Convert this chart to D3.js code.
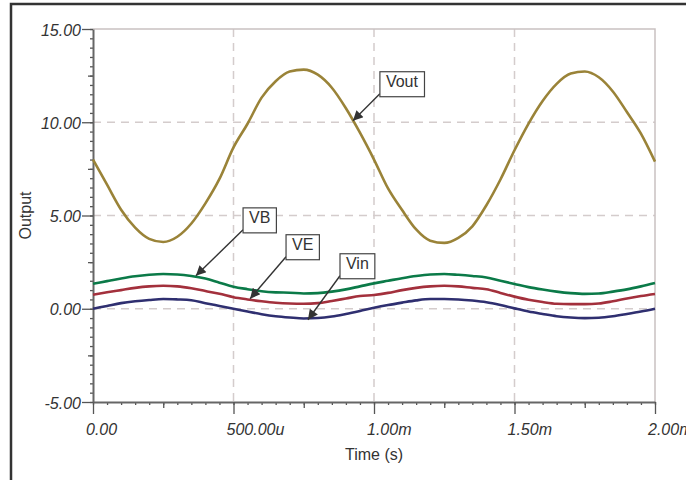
<!DOCTYPE html>
<html>
<head>
<meta charset="utf-8">
<script src="https://cdn.jsdelivr.net/npm/d3@7"></script>
<style>
  body { margin: 0; background: #fff; }
  svg { display: block; font-family: "Liberation Sans", Arial, Helvetica, sans-serif; }
</style>
</head>
<body>
<div id="chart"></div>
<script>
// time samples in ms
const timeMs = [0.00, 0.05, 0.10, 0.15, 0.20, 0.25, 0.30, 0.35, 0.40, 0.45,
  0.50, 0.55, 0.60, 0.65, 0.70, 0.75, 0.80, 0.85, 0.90, 0.95,
  1.00, 1.05, 1.10, 1.15, 1.20, 1.25, 1.30, 1.35, 1.40, 1.45,
  1.50, 1.55, 1.60, 1.65, 1.70, 1.75, 1.80, 1.85, 1.90, 1.95, 2.00];

const vout = [8.00, 6.65, 5.31, 4.35, 3.75, 3.58, 3.86, 4.57, 5.65, 6.96,
  8.65, 9.92, 11.32, 12.20, 12.72, 12.82, 12.55, 11.85, 10.75, 9.44,
  8.00, 6.45, 5.29, 4.25, 3.65, 3.53, 3.80, 4.42, 5.55, 6.93,
  8.50, 9.93, 11.14, 12.06, 12.61, 12.72, 12.41, 11.65, 10.55, 9.39, 7.89];

const vb = [1.34, 1.48, 1.62, 1.74, 1.82, 1.86, 1.84, 1.76, 1.62, 1.40,
  1.18, 1.05, 0.94, 0.88, 0.86, 0.82, 0.84, 0.92, 1.04, 1.20,
  1.36, 1.50, 1.64, 1.76, 1.84, 1.86, 1.82, 1.76, 1.68, 1.50,
  1.33, 1.16, 1.03, 0.92, 0.84, 0.80, 0.82, 0.92, 1.04, 1.20, 1.38];

const ve = [0.75, 0.88, 1.00, 1.12, 1.20, 1.23, 1.20, 1.10, 0.95, 0.80,
  0.62, 0.50, 0.40, 0.32, 0.28, 0.27, 0.30, 0.42, 0.55, 0.68,
  0.74, 0.85, 1.00, 1.12, 1.20, 1.23, 1.20, 1.12, 1.05, 0.85,
  0.65, 0.48, 0.36, 0.27, 0.25, 0.25, 0.28, 0.40, 0.55, 0.68, 0.79];

const vin = [0.00, 0.15, 0.30, 0.40, 0.47, 0.52, 0.50, 0.46, 0.30, 0.15,
  0.00, -0.15, -0.29, -0.40, -0.47, -0.52, -0.50, -0.42, -0.28, -0.12,
  0.05, 0.20, 0.33, 0.45, 0.52, 0.52, 0.50, 0.44, 0.35, 0.20,
  0.02, -0.15, -0.28, -0.40, -0.47, -0.50, -0.48, -0.40, -0.28, -0.15, 0.00];

const seriesNames = ['Vout', 'VB', 'VE', 'Vin'];
const seriesColors = ['#9a8338', '#0b7a48', '#a3303c', '#2f2f70'];

const xTicks = [0, 0.5, 1, 1.5, 2];
const xTickLabels = ['0.00', '500.00u', '1.00m', '1.50m', '2.00m'];
const yTicks = [-5, 0, 5, 10, 15];
const yTickLabels = ['-5.00', '0.00', '5.00', '10.00', '15.00'];

// annotation boxes: label, arrow tip [t, v], box top-left [t, v]
const annoLabels = ['Vout', 'VB', 'VE', 'Vin'];
const annoTips = [[0.925, 10.08], [0.366, 1.77], [0.559, 0.54], [0.765, -0.59]];
const annoBoxes = [[1.021, 12.87], [0.534, 5.57], [0.687, 4.13], [0.879, 3.11]];

const width = 686;
const height = 480;
const margin = { top: 29, right: 31, bottom: 78, left: 93 };

const svg = d3.select('#chart')
  .append('svg')
  .attr('width', width)
  .attr('height', height);

const x = d3.scaleLinear().domain([0, 2]).range([margin.left, width - margin.right]);
const y = d3.scaleLinear().domain([-5, 15]).range([height - margin.bottom, margin.top]);

// outer frame
svg.append('rect')
  .attr('x', 11).attr('y', 4)
  .attr('width', 700).attr('height', 500)
  .attr('fill', 'none')
  .attr('stroke', '#333')
  .attr('stroke-width', 2.5);

// grid
const grid = svg.append('g');
grid.selectAll('.gx')
  .data(xTicks.slice(1, -1))
  .enter().append('line')
  .attr('x1', d => x(d)).attr('x2', d => x(d))
  .attr('y1', y(15)).attr('y2', y(-5))
  .attr('stroke', '#d4cccc').attr('stroke-width', 1.5)
  .attr('stroke-dasharray', '8,6');
grid.selectAll('.gy')
  .data(yTicks.slice(1, -1))
  .enter().append('line')
  .attr('x1', x(0)).attr('x2', x(2))
  .attr('y1', d => y(d)).attr('y2', d => y(d))
  .attr('stroke', '#d4cccc').attr('stroke-width', 1.5)
  .attr('stroke-dasharray', '8,6');

// plot border top + right
svg.append('path')
  .attr('d', `M${x(0)},${y(15)}H${x(2)}V${y(-5)}`)
  .attr('fill', 'none')
  .attr('stroke', '#c9c1c1')
  .attr('stroke-width', 1.5);

// minor ticks
const xMinor = d3.range(0, 2.0001, 0.05);
const yMinor = d3.range(-5, 15.0001, 0.5);

svg.append('g')
  .attr('transform', `translate(0,${y(-5)})`)
  .call(d3.axisBottom(x).tickValues(xMinor).tickSize(3).tickFormat(''))
  .call(g => g.select('.domain').remove());
svg.append('g')
  .attr('transform', `translate(0,${y(-5)})`)
  .call(d3.axisBottom(x).tickValues([0.25, 0.75, 1.25, 1.75]).tickSize(6).tickFormat(''))
  .call(g => g.select('.domain').remove());
svg.append('g')
  .attr('transform', `translate(${x(0)},0)`)
  .call(d3.axisLeft(y).tickValues(yMinor).tickSize(3).tickFormat(''))
  .call(g => g.select('.domain').remove());
svg.append('g')
  .attr('transform', `translate(${x(0)},0)`)
  .call(d3.axisLeft(y).tickValues([-2.5, 2.5, 7.5, 12.5]).tickSize(5).tickFormat(''))
  .call(g => g.select('.domain').remove());

// major axes
const xAxis = svg.append('g')
  .attr('transform', `translate(0,${y(-5)})`)
  .call(d3.axisBottom(x).tickValues(xTicks).tickSize(12).tickPadding(9.5)
    .tickFormat((d, i) => xTickLabels[i]).tickSizeOuter(0));
xAxis.selectAll('text')
  .attr('text-anchor', 'start')
  .attr('dx', -7.5);

const yAxis = svg.append('g')
  .attr('transform', `translate(${x(0)},0)`)
  .call(d3.axisLeft(y).tickValues(yTicks).tickSize(11).tickPadding(1)
    .tickFormat((d, i) => yTickLabels[i]).tickSizeOuter(0));
yAxis.selectAll('text').attr('dy', '0.38em');

svg.selectAll('.tick line').attr('stroke', '#555').attr('stroke-width', 1.3);
svg.selectAll('.domain').attr('stroke', '#666').attr('stroke-width', 2);
svg.selectAll('.tick text')
  .attr('fill', '#333')
  .style('font-size', '16px')
  .style('font-style', 'italic')
  .style('font-family', '"Liberation Sans", Arial, sans-serif');

// axis titles
svg.append('text')
  .attr('x', x(1))
  .attr('y', 460)
  .attr('text-anchor', 'middle')
  .attr('fill', '#333')
  .style('font-size', '16px')
  .text('Time (s)');

svg.append('text')
  .attr('transform', `translate(31,${y(5)}) rotate(-90)`)
  .attr('text-anchor', 'middle')
  .attr('fill', '#333')
  .style('font-size', '16px')
  .text('Output');

// series
const allSeries = [vout, vb, ve, vin];
const line = d3.line()
  .x((d, i) => x(timeMs[i]))
  .y(d => y(d))
  .curve(d3.curveMonotoneX);

svg.append('g')
  .selectAll('path')
  .data(allSeries)
  .enter().append('path')
  .attr('d', d => line(d))
  .attr('fill', 'none')
  .attr('stroke', (d, i) => seriesColors[i])
  .attr('stroke-width', 2.6);

// annotations
svg.append('defs').append('marker')
  .attr('id', 'arrow')
  .attr('viewBox', '0 0 10 10')
  .attr('refX', 10).attr('refY', 5)
  .attr('markerWidth', 14).attr('markerHeight', 10)
  .attr('markerUnits', 'userSpaceOnUse')
  .attr('orient', 'auto')
  .append('path')
  .attr('d', 'M0,0L10,5L0,10Z')
  .attr('fill', '#333');

const anno = svg.append('g')
  .selectAll('g')
  .data(annoLabels)
  .enter().append('g');

anno.append('line')
  .attr('x1', (d, i) => x(annoBoxes[i][0]))
  .attr('y1', (d, i) => y(annoBoxes[i][1]) + 25)
  .attr('x2', (d, i) => x(annoTips[i][0]))
  .attr('y2', (d, i) => y(annoTips[i][1]))
  .attr('stroke', '#333')
  .attr('stroke-width', 1.4)
  .attr('marker-end', 'url(#arrow)');

anno.append('text')
  .attr('x', (d, i) => x(annoBoxes[i][0]) + 6)
  .attr('y', (d, i) => y(annoBoxes[i][1]) + 18.5)
  .attr('fill', '#333')
  .style('font-size', '16px')
  .text(d => d);

anno.each(function () {
  const g = d3.select(this);
  const bb = g.select('text').node().getBBox();
  g.insert('rect', 'text')
    .attr('x', bb.x - 6)
    .attr('y', bb.y + bb.height + 6.5 - 25)
    .attr('width', bb.width + 12)
    .attr('height', 25)
    .attr('fill', '#fff')
    .attr('stroke', '#444')
    .attr('stroke-width', 1.2);
});
</script>
</body>
</html>
